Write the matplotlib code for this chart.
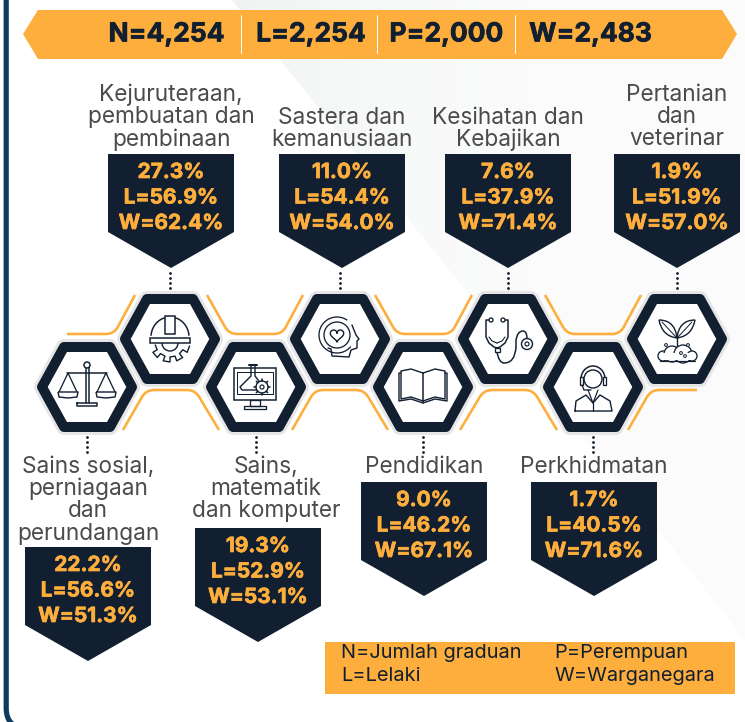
import numpy as np
import matplotlib.pyplot as plt
import matplotlib.patheffects as pe
from matplotlib.colors import LinearSegmentedColormap
from matplotlib.patches import Polygon, Circle, Rectangle, Arc, PathPatch
from matplotlib.path import Path

# data
totals = ["N=4,254", "L=2,254", "P=2,000", "W=2,483"]
top_labels = [["Kejuruteraan,", "pembuatan dan", "pembinaan"],
              ["Sastera dan", "kemanusiaan"],
              ["Kesihatan dan", "Kebajikan"],
              ["Pertanian", "dan", "veterinar"]]
top_share = [27.3, 11.0, 7.6, 1.9]
top_male = [56.9, 54.4, 37.9, 51.9]
top_citizen = [62.4, 54.0, 71.4, 57.0]

bottom_labels = [["Sains sosial,", "perniagaan", "dan", "perundangan"],
                 ["Sains,", "matematik", "dan komputer"],
                 ["Pendidikan"],
                 ["Perkhidmatan"]]
bottom_share = [22.2, 19.3, 9.0, 1.7]
bottom_male = [56.6, 52.9, 46.2, 40.5]
bottom_citizen = [51.3, 53.1, 67.1, 71.6]

legend_left = ["N=Jumlah graduan", "L=Lelaki"]
legend_right = ["P=Perempuan", "W=Warganegara"]

navy = "#111f30"
orange = "#fdae3c"
grey_txt = "#4b4b4b"
frame = "#0e3a5c"
FONT = "Inter"

fig = plt.figure(figsize=(7.45, 7.22), dpi=100)
ax = fig.add_axes([0, 0, 1, 1])
ax.set_xlim(0, 745)
ax.set_ylim(722, 0)
ax.axis("off")


def px(v):
    return v * 0.72


def line(xs, ys, w=1.5, c=navy, z=8, **kw):
    ax.plot(xs, ys, color=c, lw=px(w), zorder=z, solid_capstyle="round", solid_joinstyle="round", **kw)


def rounded(points, r=8):
    verts = [points[0]]
    codes = [Path.MOVETO]
    for i in range(1, len(points) - 1):
        p = np.array(points[i], float)
        a = np.array(points[i - 1], float)
        b = np.array(points[i + 1], float)
        pa = p + (a - p) / np.linalg.norm(a - p) * r
        pb = p + (b - p) / np.linalg.norm(b - p) * r
        verts += [tuple(pa), tuple(p), tuple(pb)]
        codes += [Path.LINETO, Path.CURVE3, Path.CURVE3]
    verts.append(points[-1])
    codes.append(Path.LINETO)
    return Path(verts, codes)


def hexagon(cx, cy):
    pts = [(cx - 45, cy), (cx - 23, cy - 40), (cx + 23, cy - 40), (cx + 45, cy), (cx + 23, cy + 40), (cx - 23, cy + 40)]
    ax.add_patch(Polygon(pts, closed=True, fc="#e6e6e6", ec="#e6e6e6", lw=px(16), joinstyle="round", zorder=4))
    ax.add_patch(Polygon(pts, closed=True, fc="white", ec=navy, lw=px(10), joinstyle="round", zorder=5))


def pentagon(cx, top, pct, male, cit):
    pts = [(cx - 63, top), (cx + 63, top), (cx + 63, top + 78), (cx, top + 114), (cx - 63, top + 78)]
    ax.add_patch(Polygon(pts, closed=True, fc=navy, ec="none", zorder=3))
    rows = [f"{pct:.1f}%", f"L={male:.1f}%", f"W={cit:.1f}%"]
    for i, t in enumerate(rows):
        tx = ax.text(cx, top + 18 + i * 25.5, t, color=orange, fontsize=15, fontweight="bold", family=FONT,
                     ha="center", va="center", zorder=6)
        tx.set_path_effects([pe.withStroke(linewidth=0.5, foreground=orange)])


def label(cx, y0, rows):
    for i, t in enumerate(rows):
        ax.text(cx, y0 + i * 22.2, t, color=grey_txt, fontsize=16.3, family=FONT,
                ha="center", va="center", zorder=6)


def dots(x, y0, y1):
    ys = np.arange(y0, y1 + 0.1, 5)
    ax.scatter([x] * len(ys), ys, s=4, color=navy, lw=0, zorder=3)


# icons, all relative to the hexagon centre
def icon_scale(c, d):
    line([c - 1, c - 1], [d - 20, d + 16], 1.5)
    line([c + 2, c + 2], [d - 20, d + 16], 1.5)
    ax.add_patch(Circle((c, d - 22), 3, fc="white", ec=navy, lw=px(1.5), zorder=8))
    line([c - 20, c + 20], [d - 14, d - 14], 1.5)
    line([c - 10, c + 10, c + 10, c - 10, c - 10], [d + 16, d + 16, d + 19, d + 19, d + 16], 1.5)
    for s in (-1, 1):
        xc = c + s * 19
        line([xc - 9, xc, xc + 9], [d + 5, d - 14, d + 5], 1.3)
        ax.add_patch(PathPatch(Path([(xc - 10, d + 5), (xc + 10, d + 5), (xc + 9, d + 10), (xc, d + 11), (xc - 9, d + 10), (xc - 10, d + 5)]),
                               fc="white", ec=navy, lw=px(1.4), joinstyle="round", zorder=8))


def icon_helmet(c, d):
    th = np.linspace(-np.pi / 2 + 0.1, np.pi / 2 - 0.1, 40)
    ang = np.linspace(0.2, np.pi - 0.2, 9)
    gx, gy = [], []
    for i in range(len(ang) - 1):
        a0 = ang[i]
        a1 = ang[i + 1]
        r = 20 if i % 2 == 0 else 15
        gx += [c + r * np.cos(a0), c + r * np.cos(a1)]
        gy += [d + 3 + r * np.sin(a0), d + 3 + r * np.sin(a1)]
    line(gx, gy, 1.4)
    ax.add_patch(Arc((c, d + 4), 16, 16, theta1=0, theta2=180, ec=navy, lw=px(1.4), zorder=8))
    ax.add_patch(Rectangle((c - 20, d - 1), 40, 5, fc="white", ec=navy, lw=px(1.5), zorder=9))
    ax.plot(c + 19 * np.sin(th), d - 2 - 20 * np.cos(th), color=navy, lw=px(1.5), zorder=9)
    ax.add_patch(Rectangle((c - 5, d - 23), 10, 18, fc="white", ec=navy, lw=px(1.5), zorder=10))


def icon_monitor(c, d):
    ax.add_patch(Rectangle((c - 22, d - 19), 42, 32, fc="white", ec=navy, lw=px(1.5), zorder=8))
    line([c - 19, c + 17, c + 17, c - 19, c - 19], [d - 15, d - 15, d + 7, d + 7, d - 15], 1)
    line([c - 6, c + 4, c + 4, c - 6, c - 6], [d + 13, d + 13, d + 19, d + 19, d + 13], 1.3)
    line([c - 12, c + 10, c + 10, c - 12, c - 12], [d + 19, d + 19, d + 22, d + 22, d + 19], 1.3)
    line([c - 5, c - 5, c - 16, c - 14, c + 4, c + 6, c - 1, c - 1], [d - 22, d - 11, d, d + 3, d + 3, d - 2, d - 11, d - 22], 1.4)
    line([c - 7, c + 1], [d - 22, d - 22], 2)
    ax.add_patch(Circle((c + 6, d), 6, fc="white", ec=navy, lw=px(1.4), zorder=9))
    ax.add_patch(Circle((c + 6, d), 2, fc="white", ec=navy, lw=px(1.2), zorder=9))
    for a in np.arange(0, 2 * np.pi, np.pi / 4):
        line([c + 6 + 6 * np.cos(a), c + 6 + 8 * np.cos(a)], [d + 6 * np.sin(a), d + 8 * np.sin(a)], 1.6, z=9)


def icon_head(c, d):
    ox = c - 3
    oy = d - 4
    ax.add_patch(Arc((ox, oy), 36, 36, theta1=40, theta2=305, ec=navy, lw=px(1.3), zorder=8))
    ax.add_patch(Circle((ox, oy), 13, fc="white", ec=navy, lw=px(1.3), zorder=8))
    t = np.linspace(0, 2 * np.pi, 60)
    ax.plot(ox + 0.42 * 16 * np.sin(t) ** 3, oy - 0.42 * (13 * np.cos(t) - 5 * np.cos(2 * t) - 2 * np.cos(3 * t) - np.cos(4 * t)),
            color=navy, lw=px(1.4), zorder=9)
    line([ox + 15, ox + 19, ox + 22, ox + 20, ox + 20, ox + 14, ox + 12, ox - 5, ox - 6, ox - 9],
         [oy - 10, oy, oy + 4, oy + 6, oy + 13, oy + 15, oy + 22, oy + 21, oy + 14, oy + 13], 1.4)


def icon_book(c, d):
    for s in (-1, 1):
        line([c, c + s * 12, c + s * 22, c + s * 22, c + s * 12, c], [d - 14, d - 18, d - 16, d + 12, d + 10, d + 14], 1.4)
        line([c + s * 22, c + s * 24, c + s * 24, c + s * 12, c], [d - 14, d - 14, d + 14, d + 12, d + 16], 1.4)
    line([c, c], [d - 14, d + 15], 1.5)


def icon_stethoscope(c, d):
    a = c - 11
    for s in (-1, 1):
        line([a + s * 6, a + s * 11, a + s * 11, a + s * 8, a + s * 3, a], [d - 19, d - 19, d - 2, d + 4, d + 8, d + 9], 1.5)
        line([a + s * 8, a + s * 8, a + s * 5, a], [d - 2, d - 2, d + 2, d + 4], 1.1)
        ax.add_patch(Circle((a + s * 6, d - 19), 2, fc="white", ec=navy, lw=px(1.3), zorder=9))
    ax.add_patch(Rectangle((a - 2.5, d + 9), 5, 4, fc="white", ec=navy, lw=px(1.3), zorder=9))
    pth = Path([(a, d + 13), (a + 2, d + 24), (a + 7, d + 24), (a + 18, d + 24), (a + 19, d + 8), (a + 19, d + 2),
                (a + 20, d - 8), (a + 26, d - 8), (a + 30, d - 8), (a + 30, d)],
               [Path.MOVETO, Path.CURVE3, Path.CURVE3, Path.CURVE3, Path.CURVE3, Path.LINETO, Path.CURVE3, Path.CURVE3,
                Path.CURVE3, Path.CURVE3])
    ax.add_patch(PathPatch(pth, fc="none", ec=navy, lw=px(1.5), zorder=8))
    ax.add_patch(Circle((a + 30, d + 5), 5.5, fc="white", ec=navy, lw=px(1.4), zorder=8))
    ax.add_patch(Circle((a + 30, d + 5), 2, fc="white", ec=navy, lw=px(1.2), zorder=8))


def icon_agent(c, d):
    ax.add_patch(Circle((c, d - 8), 9, fc="white", ec=navy, lw=px(1.4), zorder=8))
    ax.add_patch(Arc((c, d - 8), 24, 26, theta1=180, theta2=360, ec=navy, lw=px(1.5), zorder=8))
    ax.add_patch(Rectangle((c - 13, d - 10), 3, 8, fc="white", ec=navy, lw=px(1.3), zorder=9))
    ax.add_patch(Rectangle((c + 10, d - 10), 3, 8, fc="white", ec=navy, lw=px(1.3), zorder=9))
    line([c - 11, c - 9, c - 2], [d - 2, d + 3, d + 3], 1.3, z=9)
    line([c - 18, c - 17, c - 7, c, c + 7, c + 17, c + 19, c - 18], [d + 24, d + 14, d + 8, d + 16, d + 8, d + 14, d + 24, d + 24], 1.4)
    line([c - 5, c, c + 5], [d + 3, d + 16, d + 3], 1.2)
    line([c, c], [d + 16, d + 24], 1.2)


def icon_plant(c, d):
    line([c, c, c], [d - 5, d + 4, d + 12], 1.4)
    for s in (-1, 1):
        pth = Path([(c, d - 1), (c + s * 2, d - 19), (c + s * 18, d - 19), (c + s * 15, d - 3), (c, d - 1)],
                   [Path.MOVETO, Path.CURVE3, Path.CURVE3, Path.CURVE3, Path.CURVE3])
        ax.add_patch(PathPatch(pth, fc="white", ec=navy, lw=px(1.4), zorder=8))
        line([c + s * 1, c + s * 15], [d - 2, d - 17], 1)
    for xo, yo, r in [(-14, 17, 5), (-5, 15, 8), (6, 15, 9), (15, 17, 5)]:
        ax.add_patch(Circle((c + xo, d + yo), r, fc="white", ec=navy, lw=px(1.3), zorder=8))
    ax.add_patch(Rectangle((c - 14, d + 14), 28, 7, fc="white", ec="none", zorder=9))
    line([c - 17, c + 18], [d + 21.5, d + 21.5], 1.2, z=9)
    for xo, yo in [(-11, 6), (11, 6), (4, 14), (8, 17)]:
        ax.add_patch(Circle((c + xo, d + yo), 1.4, fc="white", ec=navy, lw=px(1), zorder=10))


# background wedge, gets lighter away from its top left edge
wedge = Polygon([(232, 0), (745, 0), (745, 640), (660, 532)], closed=True, fc="none", ec="none")
ax.add_patch(wedge)
gx, gy = np.meshgrid(np.arange(0, 745, 4), np.arange(0, 722, 4))
shade = np.clip((gx - 232 - gy / 1.244 + gy * 0.8) / 300, 0, 1)
img = ax.imshow(shade, extent=(0, 745, 722, 0), cmap=LinearSegmentedColormap.from_list("bg", ["#f1f3f3", "#f8f9f9", "#fbfbfb"]),
                aspect="auto", zorder=0)
img.set_clip_path(wedge)
ax.set_xlim(0, 745)
ax.set_ylim(722, 0)

# frame, bottom edge runs off the picture
ax.add_patch(PathPatch(rounded([(6.2, -5), (6.2, 728), (60, 728)], r=20), fc="none", ec=frame, lw=px(5.2), zorder=2))

# banner
ax.add_patch(Polygon([(23, 34), (38, 10), (722, 10), (737, 34), (722, 59), (38, 59)], closed=True, fc=orange, ec="none", zorder=2))
for x in [241, 377, 515]:
    line([x, x], [15, 53], 1, c="white", z=3)
for x, t in zip([166.5, 311, 446.5, 590.5], totals):
    tx = ax.text(x, 34.5, t, color=navy, fontsize=19, fontweight="bold", family=FONT, ha="center", va="center", zorder=4)
    tx.set_path_effects([pe.withStroke(linewidth=0.5, foreground=navy)])

# connectors
orange_paths = [
    [(67, 334), (114, 334), (135, 295)],
    [(207, 295), (229, 334), (282, 334), (303, 295)],
    [(375, 295), (397, 334), (451, 334), (472, 295)],
    [(545, 295), (567, 334), (620, 334), (641, 295)],
    [(123, 430), (146, 390), (195, 390), (219, 430)],
    [(292, 430), (315, 390), (364, 390), (388, 430)],
    [(460, 430), (484, 390), (533, 390), (557, 430)],
    [(628, 430), (651, 390), (697, 390)],
]
for p in orange_paths:
    ax.add_patch(PathPatch(rounded(p), fc="none", ec=orange, lw=px(2.6), capstyle="butt", zorder=2))

# layout
top_x = [170, 340, 508, 677]
bottom_x = [87, 256, 423, 593]
top_box_x = [171, 342, 508, 677]
bottom_box_x = [88, 258, 424, 594]
bottom_box_top = [547, 528, 482, 482]
top_label_y = [95, 118, 118, 95]
top_icons = [icon_helmet, icon_head, icon_stethoscope, icon_plant]
bottom_icons = [icon_scale, icon_monitor, icon_book, icon_agent]

for i in range(4):
    hexagon(top_x[i], 339)
    top_icons[i](top_x[i], 339)
    dots(top_x[i], 273, 291)
    pentagon(top_box_x[i], 154, top_share[i], top_male[i], top_citizen[i])
    label(top_box_x[i], top_label_y[i], top_labels[i])

    hexagon(bottom_x[i], 387)
    bottom_icons[i](bottom_x[i], 387)
    dots(bottom_x[i], 437, 455)
    pentagon(bottom_box_x[i], bottom_box_top[i], bottom_share[i], bottom_male[i], bottom_citizen[i])

label(88, 467, bottom_labels[0])
label(266, 467, bottom_labels[1])
label(424, 467, bottom_labels[2])
label(594, 467, bottom_labels[3])

# legend
ax.add_patch(Rectangle((325, 642), 410, 52, fc=orange, ec="none", zorder=2))
for i in range(2):
    ax.text(341, 653 + i * 23, legend_left[i], color=navy, fontsize=14.4, family=FONT, ha="left", va="center", zorder=3)
    ax.text(554, 653 + i * 23, legend_right[i], color=navy, fontsize=14.4, family=FONT, ha="left", va="center", zorder=3)

plt.savefig("out.png", dpi=100)
